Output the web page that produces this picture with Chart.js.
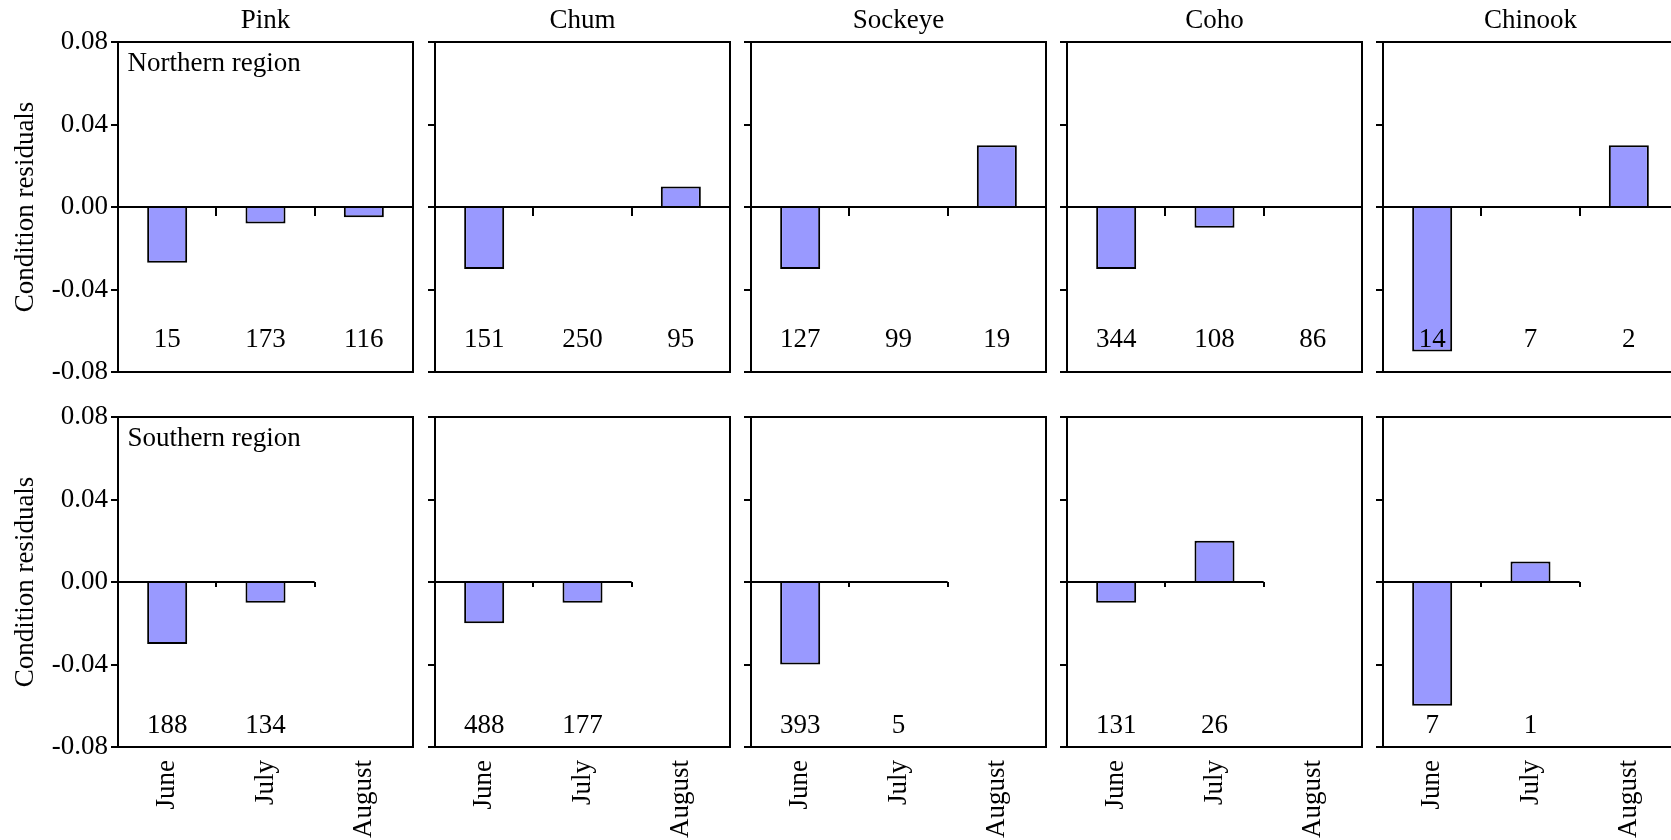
<!DOCTYPE html>
<html>
<head>
<meta charset="utf-8">
<script src="https://cdn.jsdelivr.net/npm/chart.js@4/dist/chart.umd.min.js"></script>
<style>
  html, body { margin: 0; padding: 0; background: #fff; overflow: hidden; width: 1671px; height: 840px; }
  #fig { position: relative; width: 1671px; height: 840px; }
  #fig canvas { position: absolute; }
</style>
</head>
<body>
<div id="fig"></div>
<script>
// Categories and labels
const months = ['June', 'July', 'August'];
const species = ['Pink', 'Chum', 'Sockeye', 'Coho', 'Chinook'];
const regionNames = ['Northern region', 'Southern region'];
const yTickValues = [-0.08, -0.04, 0.00, 0.04, 0.08];
const yAxisTitle = 'Condition residuals';

// Mean condition residuals by month, northern region
const pinkNorth    = [-0.027, -0.008, -0.005];
const chumNorth    = [-0.030,  0.000,  0.010];
const sockeyeNorth = [-0.030,  0.000,  0.030];
const cohoNorth    = [-0.030, -0.010,  0.000];
const chinookNorth = [-0.070,  0.000,  0.030];

// Mean condition residuals by month, southern region (no August sampling)
const pinkSouth    = [-0.030, -0.010];
const chumSouth    = [-0.020, -0.010];
const sockeyeSouth = [-0.040,  0.000];
const cohoSouth    = [-0.010,  0.020];
const chinookSouth = [-0.060,  0.010];

// Sample sizes printed inside each panel
const pinkNorthN    = [15, 173, 116];
const chumNorthN    = [151, 250, 95];
const sockeyeNorthN = [127, 99, 19];
const cohoNorthN    = [344, 108, 86];
const chinookNorthN = [14, 7, 2];
const pinkSouthN    = [188, 134];
const chumSouthN    = [488, 177];
const sockeyeSouthN = [393, 5];
const cohoSouthN    = [131, 26];
const chinookSouthN = [7, 1];

const residuals = [
  [pinkNorth, chumNorth, sockeyeNorth, cohoNorth, chinookNorth],
  [pinkSouth, chumSouth, sockeyeSouth, cohoSouth, chinookSouth]
];
const sampleSizes = [
  [pinkNorthN, chumNorthN, sockeyeNorthN, cohoNorthN, chinookNorthN],
  [pinkSouthN, chumSouthN, sockeyeSouthN, cohoSouthN, chinookSouthN]
];

// Styling and layout
const FONT_FAMILY = "'Liberation Serif', 'Times New Roman', Times, serif";
const FONT_PX = 27;
const FONT = FONT_PX + 'px ' + FONT_FAMILY;
const BAR_FILL = '#9999ff';
const PANEL_W = 295;
const panelLeft = col => Math.round(118.3 + 316.25 * col);
const rowLayout = [
  { canvasTop: 0,   height: 397, areaTop: 42, xAxisH: 25, countLift: 25, zeroTick: 9 },
  { canvasTop: 397, height: 443, areaTop: 20, xAxisH: 93, countLift: 14, zeroTick: 5 }
];

// Frame, zero line with month dividers, sample sizes, titles
const panelDecor = {
  id: 'panelDecor',
  afterDatasetsDraw(chart, args, opts) {
    const { ctx, chartArea: a, scales: { x, y } } = chart;
    ctx.save();
    ctx.strokeStyle = '#000';
    ctx.lineWidth = 2;
    ctx.lineCap = 'butt';

    const y0 = y.getPixelForValue(0);
    const xEnd = x.getPixelForValue(opts.span - 0.5);
    ctx.beginPath();
    ctx.moveTo(a.left, y0);
    ctx.lineTo(xEnd, y0);
    for (let k = 1; k <= opts.span; k++) {
      const bx = Math.round(x.getPixelForValue(k - 0.5));
      ctx.moveTo(bx, y0);
      ctx.lineTo(bx, y0 + opts.zeroTick);
    }
    ctx.stroke();

    ctx.strokeRect(a.left, a.top, a.right - a.left, a.bottom - a.top);

    ctx.font = FONT;
    ctx.fillStyle = '#000';
    ctx.textBaseline = 'alphabetic';
    ctx.textAlign = 'center';
    opts.counts.forEach((n, i) => {
      ctx.fillText(String(n), x.getPixelForValue(i), a.bottom - opts.countLift);
    });

    if (opts.title) {
      ctx.fillText(opts.title, (a.left + a.right) / 2, a.top - 14);
    }
    if (opts.region) {
      ctx.textAlign = 'left';
      ctx.fillText(opts.region, a.left + 9.5, a.top + 29);
    }
    ctx.restore();
  }
};

const fig = document.getElementById('fig');

function makePanel(row, col) {
  const r = rowLayout[row];
  const first = col === 0;
  const axisW = first ? 118 : 14;
  const w = axisW + PANEL_W + 3;
  const cv = document.createElement('canvas');
  cv.width = w;
  cv.height = r.height;
  cv.style.left = (panelLeft(col) - axisW) + 'px';
  cv.style.top = r.canvasTop + 'px';
  cv.style.width = w + 'px';
  cv.style.height = r.height + 'px';
  fig.appendChild(cv);

  const values = residuals[row][col];
  const counts = sampleSizes[row][col];
  const font = { family: FONT_FAMILY, size: FONT_PX, lineHeight: 1.2 };

  new Chart(cv, {
    type: 'bar',
    data: {
      labels: months,
      datasets: [{
        data: values,
        backgroundColor: BAR_FILL,
        borderColor: '#000',
        borderWidth: 2,
        borderSkipped: 'start',
        barPercentage: 0.407,
        categoryPercentage: 1
      }]
    },
    options: {
      responsive: false,
      animation: false,
      devicePixelRatio: 1,
      layout: { padding: { top: r.areaTop, right: 3, left: 0, bottom: 0 } },
      plugins: {
        legend: { display: false },
        tooltip: { enabled: false },
        panelDecor: {
          span: counts.length,
          counts: counts,
          zeroTick: r.zeroTick,
          countLift: r.countLift,
          title: row === 0 ? species[col] : null,
          region: first ? regionNames[row] : null
        }
      },
      scales: {
        x: {
          type: 'category',
          offset: true,
          grid: { display: false, drawTicks: false },
          border: { display: false },
          ticks: {
            display: row === 1,
            autoSkip: false,
            minRotation: 90,
            maxRotation: 90,
            padding: 13,
            color: '#000',
            font: font
          },
          afterFit: s => { s.height = r.xAxisH; }
        },
        y: {
          type: 'linear',
          min: -0.08,
          max: 0.08,
          afterBuildTicks: s => { s.ticks = yTickValues.map(v => ({ value: v })); },
          grid: { display: true, drawOnChartArea: false, drawTicks: true, tickLength: 7, color: '#000', lineWidth: 2 },
          border: { display: false },
          ticks: {
            display: first,
            padding: 3,
            color: '#000',
            font: font,
            callback: v => Number(v).toFixed(2)
          },
          title: {
            display: first,
            text: yAxisTitle,
            color: '#000',
            font: font,
            padding: { top: 10, bottom: 0 }
          },
          afterFit: s => { s.width = axisW; }
        }
      }
    },
    plugins: [panelDecor]
  });
}

for (let row = 0; row < 2; row++) {
  for (let col = 0; col < species.length; col++) {
    makePanel(row, col);
  }
}
</script>
</body>
</html>
